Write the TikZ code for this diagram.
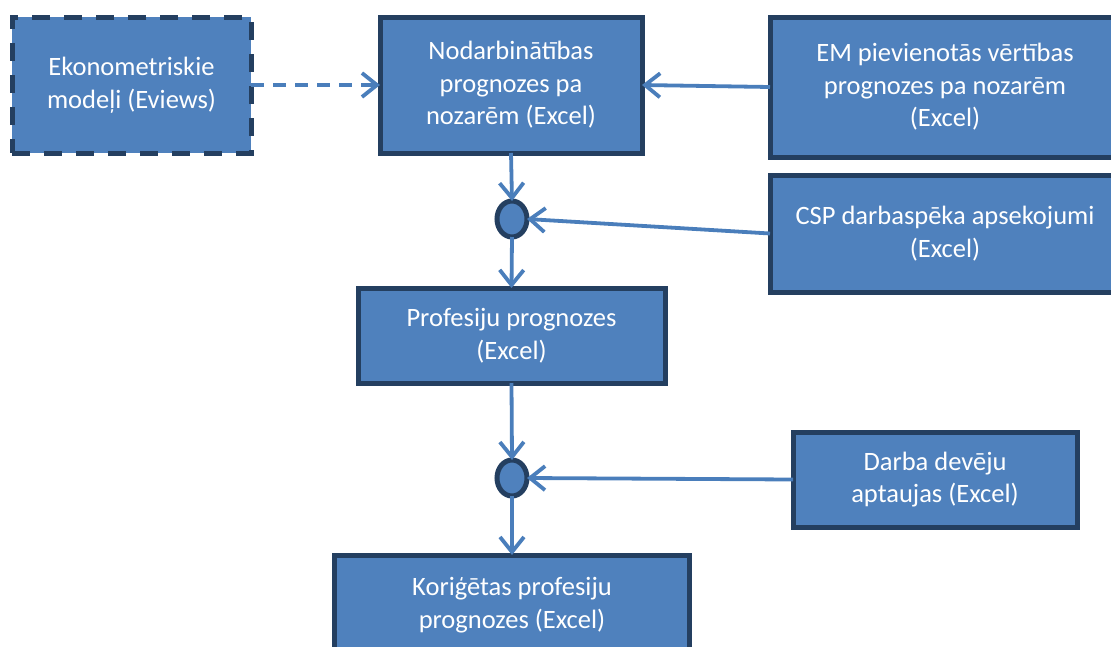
\documentclass[tikz,border=0pt]{standalone}
\usepackage{fontspec}
\setmainfont{Carlito}
\usetikzlibrary{arrows.meta,shapes.geometric}
\definecolor{boxfill}{HTML}{4F81BD}
\definecolor{boxline}{HTML}{243F60}
\definecolor{arrowcol}{HTML}{4A7EBB}
\begin{document}
\begin{tikzpicture}[x=1pt,y=-1pt,
  box/.style={draw=boxline, fill=boxfill, line width=5pt, text=white,
    align=center, inner sep=0pt, outer sep=0pt,
    font=\fontsize{26.5}{32.5}\selectfont},
  dashbox/.style={box, dash pattern=on 18pt off 14pt},
  joint/.style={ellipse, draw=boxline, fill=boxfill, line width=5pt,
    minimum width=30pt, minimum height=36pt, inner sep=0pt, outer sep=0pt},
  conn/.style={draw=arrowcol, line width=3.8pt,
    -{Straight Barb[length=15pt,width=24pt,line width=3.8pt]}},
]
\useasboundingbox (0,0) rectangle (1111,646);
\clip (0,0) rectangle (1111,646);

\node[dashbox, minimum width=239pt, minimum height=136pt] (eko) at (131.5,85)
  {Ekonometriskie\\modeļi (Eviews)};
\node[box, minimum width=262pt, minimum height=136pt] (nod) at (511,85)
  {Nodarbinātības\\prognozes pa\\nozarēm (Excel)};
\node[box, minimum width=350pt, minimum height=140pt] (em) at (945,87)
  {EM pievienotās vērtības\\prognozes pa nozarēm\\(Excel)};
\node[box, minimum width=350pt, minimum height=117pt] (csp) at (945,233.5)
  {CSP darbaspēka apsekojumi\\(Excel)};
\node[joint] (c1) at (512,219) {};
\node[box, minimum width=307pt, minimum height=95pt] (prof) at (511.5,335.5)
  {Profesiju prognozes\\(Excel)};
\node[joint] (c2) at (512,478) {};
\node[box, minimum width=284pt, minimum height=95pt] (darba) at (935,479.5)
  {Darba devēju\\aptaujas (Excel)};
\node[box, minimum width=355pt, minimum height=100pt] (kor) at (512,605)
  {Koriģētas profesiju\\prognozes (Excel)};

\draw[conn, dash pattern=on 13pt off 9pt] (eko.east) -- (nod.west);
\draw[conn] (em.west) -- (nod.east);
\draw[conn] (nod.south) -- (c1.north);
\draw[conn] (csp.west) -- (c1.east);
\draw[conn] (c1.south) -- (prof.north);
\draw[conn] (prof.south) -- (c2.north);
\draw[conn] (darba.west) -- (c2.east);
\draw[conn] (c2.south) -- (kor.north);
\end{tikzpicture}
\end{document}
